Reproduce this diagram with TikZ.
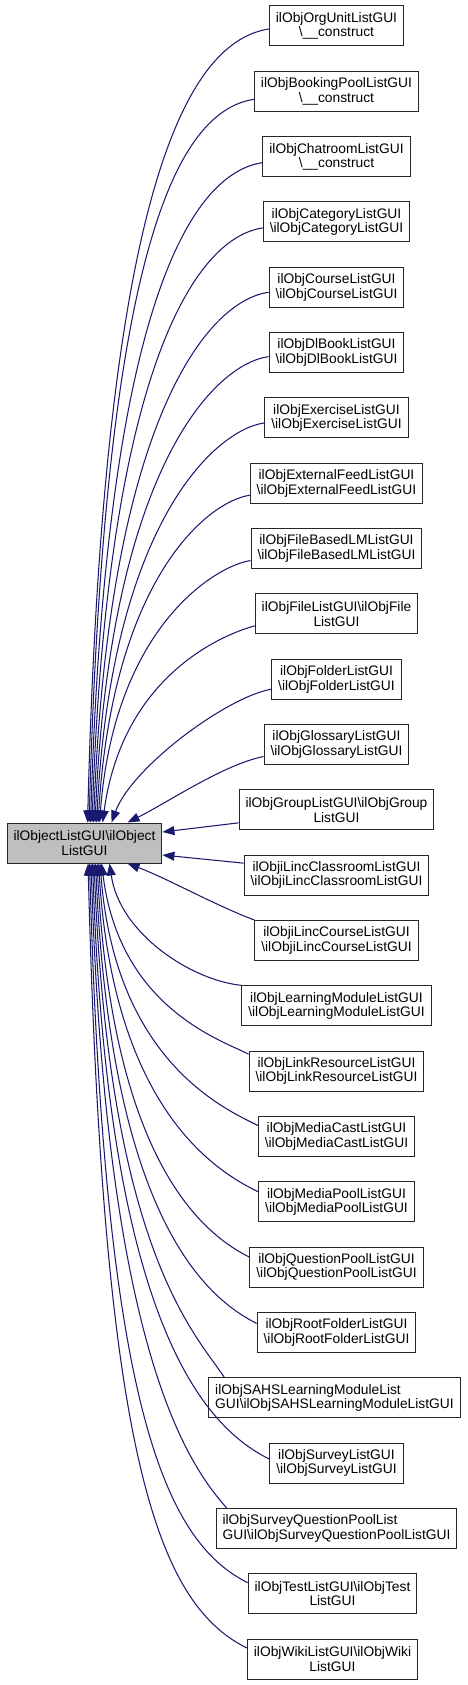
\documentclass[tikz,border=0pt]{standalone}
\usepackage{fontspec}
\setmainfont{Liberation Sans}
\usetikzlibrary{arrows.meta,calc,positioning}
\definecolor{edgeblue}{RGB}{25,25,112}
\newcommand{\bsl}{\textbackslash}
\tikzset{
	cls/.style={draw=black!85,line width=1pt,fill=white,align=center,minimum height=40pt,inner xsep=6.5pt,inner ysep=2pt,font=\fontsize{13.8}{14.5}\selectfont},
	inh/.style={draw=edgeblue,line width=1.05pt,<-},
}

\begin{document}
\begin{tikzpicture}[x=1pt,y=1pt,node distance=65.32pt,>={Triangle[length=12pt,width=9pt]}]
		\useasboundingbox (0,0) rectangle (467,-1685);
		\node[cls,fill=black!25] (main) at (84.5,-843) {ilObjectListGUI\bsl ilObject\\ListGUI};
		\node[cls] (n1) at (336.5,-26) {ilObjOrgUnitListGUI\\\bsl\_\_construct};
		\node[cls,below of=n1] (n2) {ilObjBookingPoolListGUI\\\bsl\_\_construct};
		\node[cls,below of=n2] (n3) {ilObjChatroomListGUI\\\bsl\_\_construct};
		\node[cls,below of=n3] (n4) {ilObjCategoryListGUI\\\bsl ilObjCategoryListGUI};
		\node[cls,below of=n4] (n5) {ilObjCourseListGUI\\\bsl ilObjCourseListGUI};
		\node[cls,below of=n5] (n6) {ilObjDlBookListGUI\\\bsl ilObjDlBookListGUI};
		\node[cls,below of=n6] (n7) {ilObjExerciseListGUI\\\bsl ilObjExerciseListGUI};
		\node[cls,below of=n7] (n8) {ilObjExternalFeedListGUI\\\bsl ilObjExternalFeedListGUI};
		\node[cls,below of=n8] (n9) {ilObjFileBasedLMListGUI\\\bsl ilObjFileBasedLMListGUI};
		\node[cls,below of=n9] (n10) {ilObjFileListGUI\bsl ilObjFile\\ListGUI};
		\node[cls,below of=n10] (n11) {ilObjFolderListGUI\\\bsl ilObjFolderListGUI};
		\node[cls,below of=n11] (n12) {ilObjGlossaryListGUI\\\bsl ilObjGlossaryListGUI};
		\node[cls,below of=n12] (n13) {ilObjGroupListGUI\bsl ilObjGroup\\ListGUI};
		\node[cls,below of=n13] (n14) {ilObjiLincClassroomListGUI\\\bsl ilObjiLincClassroomListGUI};
		\node[cls,below of=n14] (n15) {ilObjiLincCourseListGUI\\\bsl ilObjiLincCourseListGUI};
		\node[cls,below of=n15] (n16) {ilObjLearningModuleListGUI\\\bsl ilObjLearningModuleListGUI};
		\node[cls,below of=n16] (n17) {ilObjLinkResourceListGUI\\\bsl ilObjLinkResourceListGUI};
		\node[cls,below of=n17] (n18) {ilObjMediaCastListGUI\\\bsl ilObjMediaCastListGUI};
		\node[cls,below of=n18] (n19) {ilObjMediaPoolListGUI\\\bsl ilObjMediaPoolListGUI};
		\node[cls,below of=n19] (n20) {ilObjQuestionPoolListGUI\\\bsl ilObjQuestionPoolListGUI};
		\node[cls,below of=n20] (n21) {ilObjRootFolderListGUI\\\bsl ilObjRootFolderListGUI};
		\node[cls,align=left,below of=n21,xshift=-2pt] (n22) {ilObjSAHSLearningModuleList\\GUI\bsl ilObjSAHSLearningModuleListGUI};
		\node[cls,below of=n22,xshift=2pt] (n23) {ilObjSurveyListGUI\\\bsl ilObjSurveyListGUI};
		\node[cls,align=left,below of=n23] (n24) {ilObjSurveyQuestionPoolList\\GUI\bsl ilObjSurveyQuestionPoolListGUI};
		\node[cls,below of=n24,xshift=-4pt] (n25) {ilObjTestListGUI\bsl ilObjTest\\ListGUI};
		\node[cls,below of=n25] (n26) {ilObjWikiListGUI\bsl ilObjWiki\\ListGUI};
		% upper half
		\draw[inh] ($(main.north west)+(81,0)$) .. controls +(15,596) and +(-92,-14) .. ([yshift=-3]n1.west);
		\draw[inh] ($(main.north west)+(82.5,0)$) .. controls +(15,543) and +(-85,-13) .. ([yshift=-8]n2.west);
		\draw[inh] ($(main.north west)+(84,0)$) .. controls +(15,495) and +(-78,-12) .. ([yshift=-6]n3.west);
		\draw[inh] ($(main.north west)+(85.5,0)$) .. controls +(15,446) and +(-70,-10) .. ([yshift=-6]n4.west);
		\draw[inh] ($(main.north west)+(87,0)$) .. controls +(15,398) and +(-63,-9) .. ([yshift=-5]n5.west);
		\draw[inh] ($(main.north west)+(88.5,0)$) .. controls +(15,350) and +(-56,-8) .. ([yshift=-4]n6.west);
		\draw[inh] ($(main.north west)+(90,0)$) .. controls +(15,300) and +(-49,-7) .. ([yshift=-5]n7.west);
		\draw[inh] ($(main.north west)+(91.5,0)$) .. controls +(15,246) and +(-41,-6) .. ([yshift=-12]n8.west);
		\draw[inh] ($(main.north west)+(93,0)$) .. controls +(15,197) and +(-34,-5) .. ([yshift=-12]n9.west);
		\draw[inh] ($(main.north west)+(96,0)$) .. controls +(20,148) and +(-30,-8) .. ([yshift=-12]n10.west);
		\draw[inh] ($(main.north west)+(105,0)$) .. controls +(20,55) and +(-45,-8) .. ([yshift=-10]n11.west);
		\draw[inh] ($(main.north west)+(121,0)$) .. controls +(40,20) and +(-40,-8) .. ([yshift=-12]n12.west);
		\draw[inh] ([yshift=11]main.east) -- ([yshift=-13]n13.west);
		\draw[inh] ([yshift=-12]main.east) -- ([yshift=12]n14.west);
		% lower half
		\draw[inh] ($(main.south west)+(121,0)$) .. controls +(40,-15) and +(-40,15) .. (n15.north west);
		\draw[inh] ($(main.south west)+(103,0)$) .. controls +(10,-70) and +(-50,5) .. (n16.north west);
		\draw[inh] ($(main.south west)+(95,0)$) .. controls +(18,-143) and +(-30,15) .. ([yshift=17]n17.west);
		\draw[inh] ($(main.south west)+(93.5,0)$) .. controls +(15,-197) and +(-34,17) .. ([yshift=11]n18.west);
		\draw[inh] ($(main.south west)+(92,0)$) .. controls +(15,-247) and +(-41,20) .. ([yshift=10]n19.west);
		\draw[inh] ($(main.south west)+(90.5,0)$) .. controls +(15,-296) and +(-48,24) .. ([yshift=10]n20.west);
		\draw[inh] ($(main.south west)+(89,0)$) .. controls +(15,-345) and +(-56,28) .. ([yshift=9]n21.west);
		\draw[inh] ($(main.south west)+(87.5,0)$) .. controls +(15,-386) and +(-30,45) .. ([xshift=16]n22.north west);
		\draw[inh] ($(main.south west)+(86,0)$) .. controls +(15,-447) and +(-71,35) .. ([yshift=4]n23.west);
		\draw[inh] ($(main.south west)+(84.5,0)$) .. controls +(15,-483) and +(-40,45) .. ([xshift=11]n24.north west);
		\draw[inh] ($(main.south west)+(83,0)$) .. controls +(15,-540) and +(-84,42) .. ([yshift=11]n25.west);
		\draw[inh] ($(main.south west)+(81.5,0)$) .. controls +(15,-589) and +(-91,45) .. ([yshift=11]n26.west);
	\end{tikzpicture}
\end{document}
